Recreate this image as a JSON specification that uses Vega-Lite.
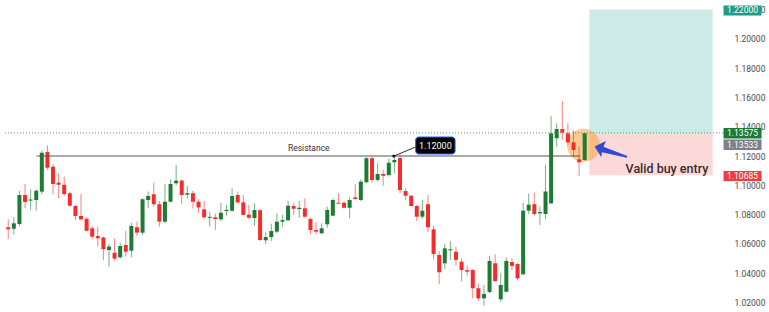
{
  "$schema": "https://vega.github.io/schema/vega-lite/v6.json",
  "width": 769,
  "height": 312,
  "autosize": {"type": "none"},
  "padding": 0,
  "background": "#ffffff",
  "config": {"view": {"stroke": null}},
  "resolve": {"axis": {"y": "independent", "x": "independent"}},
  "datasets": {
    "candles": [
      {"i":0,"o":1.0714,"h":1.0768,"l":1.0632,"c":1.0700},
      {"i":1,"o":1.0704,"h":1.0782,"l":1.0663,"c":1.0741},
      {"i":2,"o":1.0736,"h":1.0963,"l":1.0722,"c":1.0934},
      {"i":3,"o":1.0934,"h":1.1009,"l":1.0843,"c":1.0886},
      {"i":4,"o":1.0896,"h":1.0973,"l":1.0832,"c":1.0903},
      {"i":5,"o":1.0900,"h":1.0973,"l":1.0827,"c":1.0963},
      {"i":6,"o":1.0957,"h":1.1236,"l":1.0939,"c":1.1222},
      {"i":7,"o":1.1227,"h":1.1273,"l":1.1105,"c":1.1120},
      {"i":8,"o":1.1127,"h":1.1145,"l":1.0939,"c":1.1009},
      {"i":9,"o":1.1018,"h":1.1082,"l":1.0911,"c":1.1004},
      {"i":10,"o":1.1004,"h":1.1059,"l":1.0927,"c":1.0941},
      {"i":11,"o":1.0946,"h":1.0957,"l":1.0854,"c":1.0861},
      {"i":12,"o":1.0859,"h":1.0866,"l":1.0763,"c":1.0791},
      {"i":13,"o":1.0791,"h":1.0941,"l":1.0763,"c":1.0768},
      {"i":14,"o":1.0772,"h":1.0782,"l":1.0684,"c":1.0690},
      {"i":15,"o":1.0707,"h":1.0723,"l":1.0632,"c":1.0650},
      {"i":16,"o":1.0654,"h":1.0718,"l":1.0586,"c":1.0639},
      {"i":17,"o":1.0644,"h":1.0651,"l":1.0489,"c":1.0564},
      {"i":18,"o":1.0559,"h":1.0600,"l":1.0445,"c":1.0582},
      {"i":19,"o":1.0540,"h":1.0636,"l":1.0486,"c":1.0500},
      {"i":20,"o":1.0509,"h":1.0609,"l":1.0499,"c":1.0586},
      {"i":21,"o":1.0593,"h":1.0690,"l":1.0513,"c":1.0547},
      {"i":22,"o":1.0554,"h":1.0745,"l":1.0509,"c":1.0723},
      {"i":23,"o":1.0714,"h":1.0752,"l":1.0654,"c":1.0677},
      {"i":24,"o":1.0677,"h":1.0912,"l":1.0661,"c":1.0905},
      {"i":25,"o":1.0900,"h":1.0957,"l":1.0843,"c":1.0927},
      {"i":26,"o":1.0939,"h":1.1018,"l":1.0854,"c":1.0871},
      {"i":27,"o":1.0871,"h":1.0893,"l":1.0718,"c":1.0752},
      {"i":28,"o":1.0752,"h":1.1009,"l":1.0741,"c":1.0888},
      {"i":29,"o":1.0888,"h":1.1041,"l":1.0886,"c":1.1009},
      {"i":30,"o":1.1014,"h":1.1139,"l":1.1000,"c":1.1032},
      {"i":31,"o":1.1032,"h":1.1041,"l":1.0873,"c":1.0934},
      {"i":32,"o":1.0936,"h":1.0995,"l":1.0911,"c":1.0946},
      {"i":33,"o":1.0946,"h":1.0963,"l":1.0843,"c":1.0888},
      {"i":34,"o":1.0888,"h":1.0905,"l":1.0813,"c":1.0849},
      {"i":35,"o":1.0836,"h":1.0893,"l":1.0770,"c":1.0782},
      {"i":36,"o":1.0778,"h":1.0820,"l":1.0718,"c":1.0785},
      {"i":37,"o":1.0782,"h":1.0809,"l":1.0695,"c":1.0770},
      {"i":38,"o":1.0768,"h":1.0881,"l":1.0757,"c":1.0813},
      {"i":39,"o":1.0825,"h":1.0866,"l":1.0793,"c":1.0832},
      {"i":40,"o":1.0827,"h":1.0980,"l":1.0820,"c":1.0927},
      {"i":41,"o":1.0934,"h":1.0957,"l":1.0875,"c":1.0884},
      {"i":42,"o":1.0884,"h":1.0934,"l":1.0793,"c":1.0798},
      {"i":43,"o":1.0800,"h":1.0866,"l":1.0770,"c":1.0779},
      {"i":44,"o":1.0777,"h":1.0877,"l":1.0723,"c":1.0832},
      {"i":45,"o":1.0830,"h":1.0836,"l":1.0620,"c":1.0627},
      {"i":46,"o":1.0625,"h":1.0679,"l":1.0598,"c":1.0647},
      {"i":47,"o":1.0647,"h":1.0738,"l":1.0620,"c":1.0688},
      {"i":48,"o":1.0684,"h":1.0809,"l":1.0673,"c":1.0752},
      {"i":49,"o":1.0752,"h":1.0798,"l":1.0718,"c":1.0763},
      {"i":50,"o":1.0761,"h":1.0893,"l":1.0757,"c":1.0861},
      {"i":51,"o":1.0859,"h":1.0877,"l":1.0798,"c":1.0840},
      {"i":52,"o":1.0838,"h":1.0893,"l":1.0779,"c":1.0847},
      {"i":53,"o":1.0843,"h":1.0911,"l":1.0779,"c":1.0786},
      {"i":54,"o":1.0770,"h":1.0779,"l":1.0666,"c":1.0695},
      {"i":55,"o":1.0695,"h":1.0748,"l":1.0666,"c":1.0684},
      {"i":56,"o":1.0673,"h":1.0741,"l":1.0666,"c":1.0707},
      {"i":57,"o":1.0734,"h":1.0854,"l":1.0711,"c":1.0832},
      {"i":58,"o":1.0793,"h":1.0911,"l":1.0791,"c":1.0900},
      {"i":59,"o":1.0881,"h":1.0946,"l":1.0871,"c":1.0875},
      {"i":60,"o":1.0881,"h":1.0893,"l":1.0843,"c":1.0847},
      {"i":61,"o":1.0847,"h":1.0918,"l":1.0775,"c":1.0900},
      {"i":62,"o":1.0918,"h":1.1007,"l":1.0900,"c":1.0907},
      {"i":63,"o":1.0900,"h":1.1041,"l":1.0893,"c":1.1025},
      {"i":64,"o":1.1021,"h":1.1195,"l":1.1014,"c":1.1185},
      {"i":65,"o":1.1185,"h":1.1200,"l":1.1018,"c":1.1036},
      {"i":66,"o":1.1036,"h":1.1150,"l":1.1025,"c":1.1077},
      {"i":67,"o":1.1077,"h":1.1105,"l":1.0997,"c":1.1065},
      {"i":68,"o":1.1070,"h":1.1184,"l":1.1059,"c":1.1154},
      {"i":69,"o":1.1157,"h":1.1207,"l":1.1082,"c":1.1173},
      {"i":70,"o":1.1186,"h":1.1212,"l":1.0946,"c":1.0968},
      {"i":71,"o":1.0961,"h":1.0980,"l":1.0900,"c":1.0929},
      {"i":72,"o":1.0929,"h":1.0934,"l":1.0854,"c":1.0859},
      {"i":73,"o":1.0859,"h":1.0866,"l":1.0757,"c":1.0786},
      {"i":74,"o":1.0786,"h":1.0900,"l":1.0770,"c":1.0827},
      {"i":75,"o":1.0871,"h":1.0934,"l":1.0679,"c":1.0714},
      {"i":76,"o":1.0700,"h":1.0723,"l":1.0495,"c":1.0531},
      {"i":77,"o":1.0525,"h":1.0552,"l":1.0325,"c":1.0407},
      {"i":78,"o":1.0468,"h":1.0600,"l":1.0429,"c":1.0570},
      {"i":79,"o":1.0557,"h":1.0620,"l":1.0491,"c":1.0564},
      {"i":80,"o":1.0547,"h":1.0582,"l":1.0452,"c":1.0491},
      {"i":81,"o":1.0479,"h":1.0502,"l":1.0343,"c":1.0422},
      {"i":82,"o":1.0422,"h":1.0452,"l":1.0384,"c":1.0411},
      {"i":83,"o":1.0422,"h":1.0429,"l":1.0229,"c":1.0298},
      {"i":84,"o":1.0298,"h":1.0332,"l":1.0211,"c":1.0229},
      {"i":85,"o":1.0229,"h":1.0320,"l":1.0179,"c":1.0259},
      {"i":86,"o":1.0272,"h":1.0518,"l":1.0263,"c":1.0484},
      {"i":87,"o":1.0468,"h":1.0529,"l":1.0339,"c":1.0347},
      {"i":88,"o":1.0222,"h":1.0400,"l":1.0206,"c":1.0320},
      {"i":89,"o":1.0274,"h":1.0509,"l":1.0272,"c":1.0484},
      {"i":90,"o":1.0477,"h":1.0502,"l":1.0422,"c":1.0450},
      {"i":91,"o":1.0463,"h":1.0470,"l":1.0351,"c":1.0366},
      {"i":92,"o":1.0393,"h":1.0881,"l":1.0388,"c":1.0827},
      {"i":93,"o":1.0827,"h":1.0943,"l":1.0803,"c":1.0868},
      {"i":94,"o":1.0871,"h":1.0950,"l":1.0794,"c":1.0804},
      {"i":95,"o":1.0809,"h":1.0854,"l":1.0729,"c":1.0818},
      {"i":96,"o":1.0804,"h":1.1139,"l":1.0770,"c":1.0958},
      {"i":97,"o":1.0877,"h":1.1473,"l":1.0871,"c":1.1355},
      {"i":98,"o":1.1321,"h":1.1423,"l":1.1263,"c":1.1384},
      {"i":99,"o":1.1384,"h":1.1575,"l":1.1309,"c":1.1359},
      {"i":100,"o":1.1355,"h":1.1423,"l":1.1275,"c":1.1293},
      {"i":101,"o":1.1293,"h":1.1377,"l":1.1195,"c":1.1241},
      {"i":102,"o":1.1177,"h":1.1263,"l":1.1064,"c":1.1157},
      {"i":103,"o":1.1173,"h":1.1358,"l":1.1168,"c":1.1355}
    ],
    "zones": [
      {"zone":"target","x1":103.83,"x2":125.87,"y1":1.13575,"y2":1.22},
      {"zone":"stop","x1":103.83,"x2":125.87,"y1":1.10685,"y2":1.13575}
    ],
    "lines": [
      {"name":"entry","x1":-0.58,"x2":127.8,"y":1.13575},
      {"name":"resistance","x1":5.06,"x2":102.2,"y":1.12}
    ],
    "connector": [
      {"x":68.9,"y":1.12},
      {"x":72.8,"y":1.12614}
    ],
    "pricetags": [
      {"label":"1.22000","kind":"tp","x1":127.81,"x2":134.6,"y1":1.21584,"y2":1.22266,"xt":131.2,"yt":1.21925},
      {"label":"1.13575","kind":"entry","x1":127.81,"x2":134.6,"y1":1.13193,"y2":1.13909,"xt":131.2,"yt":1.13555},
      {"label":"1.13533","kind":"last","x1":127.81,"x2":134.6,"y1":1.12409,"y2":1.13125,"xt":131.2,"yt":1.12771},
      {"label":"1.10685","kind":"sl","x1":127.81,"x2":134.6,"y1":1.10295,"y2":1.10977,"xt":131.2,"yt":1.10636}
    ]
  },
  "layer": [
    {
      "data": {"name": "zones"},
      "mark": {"type": "rect"},
      "encoding": {
        "x": {"field": "x1", "type": "quantitative", "scale": {"domain": [-0.58, 135.04], "nice": false, "zero": false}, "axis": null},
        "x2": {"field": "x2"},
        "y": {"field": "y1", "type": "quantitative", "scale": {"domain": [1.01359, 1.22641], "nice": false, "zero": false},
              "axis": {"orient": "right", "offset": -36, "title": null, "labelOverlap": false, "ticks": false, "domain": false, "grid": false,
                       "values": [1.02, 1.04, 1.06, 1.08, 1.1, 1.12, 1.14, 1.16, 1.18, 1.2, 1.22], "format": ".5f",
                       "labelFont": "Roboto", "labelFontSize": 8.5, "labelColor": "#4a4a4a", "labelPadding": 1, "labelAlign": "left",
                       "labelBound": false, "labelFlush": false, "labelSeparation": 0}},
        "y2": {"field": "y2"},
        "color": {"field": "zone", "type": "nominal", "scale": {"domain": ["target", "stop"], "range": ["#cdeae6", "#fcd9d9"]}, "legend": null}
      }
    },
    {
      "data": {"values": [{"x": 102.8, "y": 1.1273}]},
      "mark": {"type": "point", "shape": "circle", "filled": true, "size": 1089, "color": "#f5a23a", "opacity": 0.55, "strokeWidth": 0},
      "encoding": {
        "x": {"field": "x", "type": "quantitative", "scale": {"domain": [-0.58, 135.04], "nice": false, "zero": false}, "axis": null},
        "y": {"field": "y", "type": "quantitative", "scale": {"domain": [1.01359, 1.22641], "nice": false, "zero": false}, "axis": null}
      }
    },
    {
      "data": {"name": "candles"},
      "mark": {"type": "rule", "strokeWidth": 1, "opacity": 0.6},
      "encoding": {
        "x": {"field": "i", "type": "quantitative", "scale": {"domain": [-0.58, 135.04], "nice": false, "zero": false}, "axis": null},
        "y": {"field": "l", "type": "quantitative", "scale": {"domain": [1.01359, 1.22641], "nice": false, "zero": false}, "axis": null},
        "y2": {"field": "h"},
        "color": {"condition": {"test": "datum.c >= datum.o", "value": "#1e7b34"}, "value": "#f52c2c"}
      }
    },
    {
      "data": {"name": "candles"},
      "mark": {"type": "bar", "size": 4},
      "encoding": {
        "x": {"field": "i", "type": "quantitative", "scale": {"domain": [-0.58, 135.04], "nice": false, "zero": false}, "axis": null},
        "y": {"field": "o", "type": "quantitative", "scale": {"domain": [1.01359, 1.22641], "nice": false, "zero": false}, "axis": null},
        "y2": {"field": "c"},
        "color": {"condition": {"test": "datum.c >= datum.o", "value": "#1e7b34"}, "value": "#f52c2c"}
      }
    },
    {
      "data": {"name": "lines"},
      "transform": [{"filter": "datum.name == 'entry'"}],
      "mark": {"type": "rule", "strokeWidth": 1, "strokeDash": [1, 2], "color": "#4f9d5c"},
      "encoding": {
        "x": {"field": "x1", "type": "quantitative", "scale": {"domain": [-0.58, 135.04], "nice": false, "zero": false}, "axis": null},
        "x2": {"field": "x2"},
        "y": {"field": "y", "type": "quantitative", "scale": {"domain": [1.01359, 1.22641], "nice": false, "zero": false}, "axis": null}
      }
    },
    {
      "data": {"name": "lines"},
      "transform": [{"filter": "datum.name == 'resistance'"}],
      "mark": {"type": "rule", "strokeWidth": 1, "color": "#555555"},
      "encoding": {
        "x": {"field": "x1", "type": "quantitative", "scale": {"domain": [-0.58, 135.04], "nice": false, "zero": false}, "axis": null},
        "x2": {"field": "x2"},
        "y": {"field": "y", "type": "quantitative", "scale": {"domain": [1.01359, 1.22641], "nice": false, "zero": false}, "axis": null}
      }
    },
    {
      "data": {"values": [{"x": 53.7, "y": 1.12525, "t": "Resistance"}]},
      "mark": {"type": "text", "font": "Roboto", "fontSize": 8.5, "color": "#333333", "align": "center", "baseline": "middle"},
      "encoding": {
        "x": {"field": "x", "type": "quantitative", "scale": {"domain": [-0.58, 135.04], "nice": false, "zero": false}, "axis": null},
        "y": {"field": "y", "type": "quantitative", "scale": {"domain": [1.01359, 1.22641], "nice": false, "zero": false}, "axis": null},
        "text": {"field": "t"}
      }
    },
    {
      "data": {"name": "connector"},
      "mark": {"type": "line", "strokeWidth": 1, "color": "#333333"},
      "encoding": {
        "x": {"field": "x", "type": "quantitative", "scale": {"domain": [-0.58, 135.04], "nice": false, "zero": false}, "axis": null},
        "y": {"field": "y", "type": "quantitative", "scale": {"domain": [1.01359, 1.22641], "nice": false, "zero": false}, "axis": null}
      }
    },
    {
      "data": {"values": [{"x": 68.9, "y": 1.12}]},
      "mark": {"type": "point", "shape": "circle", "filled": true, "size": 10, "color": "#111111", "opacity": 1},
      "encoding": {
        "x": {"field": "x", "type": "quantitative", "scale": {"domain": [-0.58, 135.04], "nice": false, "zero": false}, "axis": null},
        "y": {"field": "y", "type": "quantitative", "scale": {"domain": [1.01359, 1.22641], "nice": false, "zero": false}, "axis": null}
      }
    },
    {
      "data": {"values": [{"x1": 72.8, "x2": 79.84, "y1": 1.12136, "y2": 1.13296}]},
      "mark": {"type": "rect", "color": "#000000", "stroke": "#2962ff", "strokeWidth": 1, "cornerRadius": 3},
      "encoding": {
        "x": {"field": "x1", "type": "quantitative", "scale": {"domain": [-0.58, 135.04], "nice": false, "zero": false}, "axis": null},
        "x2": {"field": "x2"},
        "y": {"field": "y1", "type": "quantitative", "scale": {"domain": [1.01359, 1.22641], "nice": false, "zero": false}, "axis": null},
        "y2": {"field": "y2"}
      }
    },
    {
      "data": {"values": [{"x": 76.32, "y": 1.12716, "t": "1.12000"}]},
      "mark": {"type": "text", "font": "Roboto", "fontSize": 9, "color": "#ffffff", "align": "center", "baseline": "middle"},
      "encoding": {
        "x": {"field": "x", "type": "quantitative", "scale": {"domain": [-0.58, 135.04], "nice": false, "zero": false}, "axis": null},
        "y": {"field": "y", "type": "quantitative", "scale": {"domain": [1.01359, 1.22641], "nice": false, "zero": false}, "axis": null},
        "text": {"field": "t"}
      }
    },
    {
      "data": {"values": [{"x": 107.7, "y": 1.1232}]},
      "mark": {"type": "point", "shape": "M-1,0L-0.45,-0.5L-0.5,-0.14L1,0L1,0.1L-0.5,0.2L-0.45,0.5Z", "filled": true, "size": 1156, "angle": 16, "color": "#3149d6", "opacity": 1, "strokeWidth": 0},
      "encoding": {
        "x": {"field": "x", "type": "quantitative", "scale": {"domain": [-0.58, 135.04], "nice": false, "zero": false}, "axis": null},
        "y": {"field": "y", "type": "quantitative", "scale": {"domain": [1.01359, 1.22641], "nice": false, "zero": false}, "axis": null}
      }
    },
    {
      "data": {"values": [{"x": 117.7, "y": 1.1109, "t": "Valid buy entry"}]},
      "mark": {"type": "text", "font": "Roboto", "fontSize": 12.5, "fontWeight": 500, "color": "#3a2c2c", "align": "center", "baseline": "middle"},
      "encoding": {
        "x": {"field": "x", "type": "quantitative", "scale": {"domain": [-0.58, 135.04], "nice": false, "zero": false}, "axis": null},
        "y": {"field": "y", "type": "quantitative", "scale": {"domain": [1.01359, 1.22641], "nice": false, "zero": false}, "axis": null},
        "text": {"field": "t"}
      }
    },
    {
      "data": {"name": "pricetags"},
      "mark": {"type": "rect"},
      "encoding": {
        "x": {"field": "x1", "type": "quantitative", "scale": {"domain": [-0.58, 135.04], "nice": false, "zero": false}, "axis": null},
        "x2": {"field": "x2"},
        "y": {"field": "y1", "type": "quantitative", "scale": {"domain": [1.01359, 1.22641], "nice": false, "zero": false}, "axis": null},
        "y2": {"field": "y2"},
        "fill": {"field": "kind", "type": "nominal", "scale": {"domain": ["tp", "entry", "last", "sl"], "range": ["#1e9c8a", "#1c7a35", "#7d808a", "#f23c3c"]}, "legend": null}
      }
    },
    {
      "data": {"name": "pricetags"},
      "mark": {"type": "text", "font": "Roboto", "fontSize": 8.5, "color": "#ffffff", "align": "center", "baseline": "middle"},
      "encoding": {
        "x": {"field": "xt", "type": "quantitative", "scale": {"domain": [-0.58, 135.04], "nice": false, "zero": false}, "axis": null},
        "y": {"field": "yt", "type": "quantitative", "scale": {"domain": [1.01359, 1.22641], "nice": false, "zero": false}, "axis": null},
        "text": {"field": "label"}
      }
    }
  ]
}
